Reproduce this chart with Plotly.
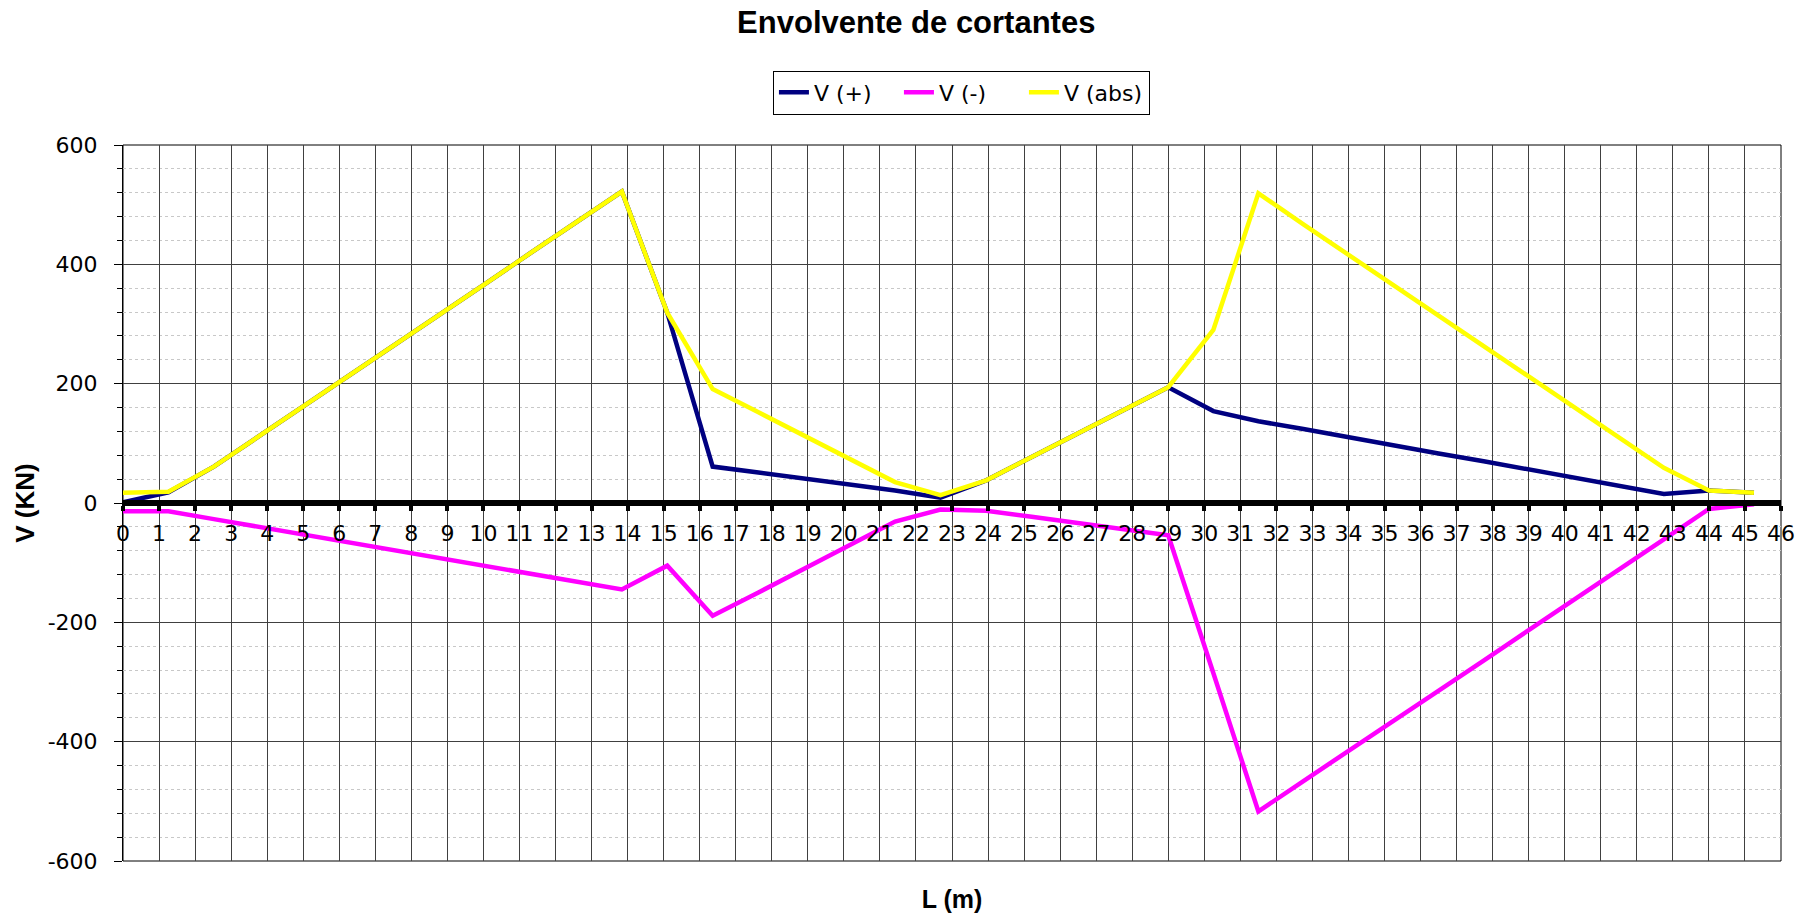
import plotly.graph_objects as go

# Stations along the beam (m)
x_m = [0.00, 1.26, 2.52, 3.78, 5.03, 6.29, 7.55, 8.81, 10.07, 11.33, 12.58, 13.84,
       15.10, 16.36, 17.63, 18.89, 20.15, 21.42, 22.68, 23.95, 25.21, 26.47, 27.74,
       29.00, 30.25, 31.50, 32.75, 34.00, 35.25, 36.50, 37.75, 39.00, 40.25, 41.50,
       42.75, 44.00, 45.25]

# Shear envelope values (kN)
v_pos = [1, 18, 61, 112, 163, 214, 266, 317, 368, 420, 471, 522,
         319, 61, 51, 41, 31, 21, 9, 38, 77, 116, 155,
         194, 154, 137, 124, 110, 97, 83, 70, 56, 43, 29,
         15, 21, 17]
v_neg = [-14, -14, -27, -40, -53, -66, -79, -92, -105, -118, -132, -145,
         -105, -189, -150, -110, -71, -31, -11, -13, -23, -33, -44,
         -54, -285, -517, -466, -416, -365, -315, -264, -213, -163, -112,
         -61, -10, -2]
v_abs = [17, 19, 61, 112, 163, 214, 266, 317, 368, 420, 471, 522,
         319, 191, 152, 113, 74, 35, 13, 38, 77, 116, 155,
         194, 290, 519, 467, 416, 365, 315, 264, 213, 163, 112,
         59, 21, 17]

series_names = ["V (+)", "V (-)", "V (abs)"]
series_colors = ["#000080", "#FF00FF", "#FFFF00"]

# Y-axis tick positions and labels (plain hyphen for negatives)
y_tickvals = [-600, -400, -200, 0, 200, 400, 600]
y_ticktext = ["-600", "-400", "-200", "0", "200", "400", "600"]

fig = go.Figure()
for name, vals, color in zip(series_names, [v_pos, v_neg, v_abs], series_colors):
    fig.add_trace(go.Scatter(x=x_m, y=vals, mode="lines", name=name,
                             line=dict(color=color, width=4.5)))

TITLE_FONT = "Liberation Sans, Arial, sans-serif"
TEXT_FONT = "DejaVu Sans, Verdana, sans-serif"

fig.update_layout(
    width=1818, height=917,
    margin=dict(l=123, r=37, t=145, b=56),
    paper_bgcolor="white", plot_bgcolor="white",
    font=dict(family=TEXT_FONT, size=22, color="black"),
    title=dict(text="<b>Envolvente de cortantes</b>", x=0.504, xref="container",
               xanchor="center", y=1 - 22 / 917, yref="container", yanchor="middle",
               font=dict(family=TITLE_FONT, size=31, color="black")),
    legend=dict(orientation="h", x=0.392, xanchor="left", y=1.104, yanchor="top",
                bordercolor="black", borderwidth=1,
                font=dict(family=TEXT_FONT, size=22),
                entrywidth=80, bgcolor="white"),
    showlegend=True,
    shapes=[dict(type="rect", xref="paper", yref="paper", x0=0, x1=1, y0=0, y1=1,
                 line=dict(color="black", width=1), layer="below")],
)

fig.update_xaxes(
    range=[0, 46], tickmode="linear", tick0=0, dtick=1,
    showgrid=True, gridcolor="#404040", gridwidth=1, zeroline=False,
    showline=True, linecolor="black", linewidth=6,
    ticks="outside", ticklen=5, tickwidth=4, tickcolor="black",
    anchor="free", position=0.5,
    tickfont=dict(family=TEXT_FONT, size=22),
    ticklabelstandoff=4,
    title=dict(text="<b>L (m)</b>", font=dict(family=TITLE_FONT, size=25),
               standoff=344),
    automargin=False,
)

fig.update_yaxes(
    range=[-600, 600], tickmode="array", tickvals=y_tickvals, ticktext=y_ticktext,
    showgrid=True, gridcolor="#404040", gridwidth=1, zeroline=False,
    showline=True, linecolor="black", linewidth=1,
    ticks="outside", ticklen=8, tickcolor="black",
    tickfont=dict(family=TEXT_FONT, size=22),
    ticklabelstandoff=12,
    minor=dict(dtick=40, ticks="outside", ticklen=5, tickcolor="black",
               showgrid=True, gridcolor="#c8c8c8", griddash="dot", gridwidth=1),
    title=dict(text="<b>V (KN)</b>", font=dict(family=TITLE_FONT, size=26),
               standoff=5),
    automargin=False,
)

fig.write_html("out.html")
